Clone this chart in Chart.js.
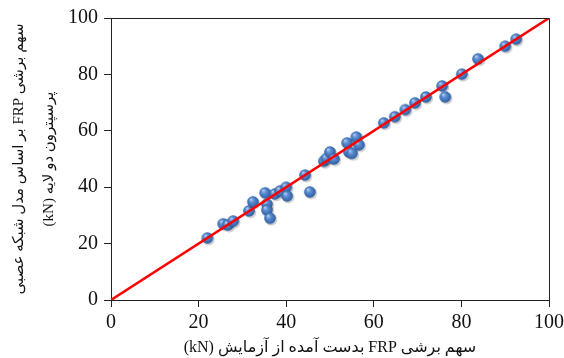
<!DOCTYPE html>
<html>
<head>
<meta charset="utf-8">
<script src="https://cdn.jsdelivr.net/npm/chart.js@4/dist/chart.umd.min.js"></script>
<style>
  html, body { margin: 0; padding: 0; background: #fff; }
  #wrap { width: 564px; height: 358px; }
</style>
</head>
<body>
<div id="wrap"><canvas id="myChart"></canvas></div>
<script>
// measured (test) vs predicted (neural net) FRP shear contribution, kN
const testValues = [22, 25.6, 26.7, 27.9, 31.5, 32.4, 35.2, 35.6, 35.6, 36.3, 37.4, 38.6, 40, 40.2, 44.3, 45.4,
  48.6, 49.2, 50, 50.9, 53.9, 54.3, 55, 56, 56.6, 62.3, 64.8, 67.2, 69.4, 71.9, 75.6, 76.3, 80.1, 83.8, 90, 92.5]
const predValues = [22, 27, 26.6, 28, 31.6, 34.8, 38, 34, 31.9, 29, 37.6, 38.7, 40, 36.9, 44.3, 38.3,
  49.2, 50.2, 52.5, 50, 55.7, 52.5, 52, 57.8, 55, 62.8, 65, 67.5, 69.9, 72, 75.9, 72, 80.1, 85.5, 90, 92.5]
const lineX = [0, 100]
const lineY = [0, 100]
const tickValues = [0, 20, 40, 60, 80, 100]

const xTitle = '\u202Bسهم برشی FRP بدست آمده از آزمایش (kN)\u202C'
const yTitle = ['\u202Bسهم برشی FRP بر اساس مدل شبکه عصبی\u202C', '\u202Bپرسپترون دو لایه (kN)\u202C']

// blue glossy ball used as the marker
function makeBall() {
  let c = document.createElement('canvas')
  c.width = 18
  c.height = 18
  let ctx = c.getContext('2d')
  ctx.fillStyle = 'rgba(0,0,0,0.18)'
  ctx.beginPath()
  ctx.arc(10.3, 10.5, 6, 0, Math.PI * 2)
  ctx.fill()
  let g = ctx.createRadialGradient(7, 6.5, 0.5, 9, 9, 6)
  g.addColorStop(0, '#a9c6ee')
  g.addColorStop(0.35, '#5b8cd0')
  g.addColorStop(0.8, '#3a6bb0')
  g.addColorStop(1, '#2b5590')
  ctx.fillStyle = g
  ctx.beginPath()
  ctx.arc(9, 9, 5.8, 0, Math.PI * 2)
  ctx.fill()
  return c
}

const scatterData = testValues.map((v, i) => ({ x: v, y: predValues[i] }))
const lineData = lineX.map((v, i) => ({ x: v, y: lineY[i] }))

const framePlugin = {
  id: 'frame',
  afterDraw(chart) {
    let a = chart.chartArea
    let ctx = chart.ctx
    ctx.save()
    ctx.strokeStyle = '#222'
    ctx.lineWidth = 1
    ctx.beginPath()
    ctx.moveTo(a.left, a.top + 0.5)
    ctx.lineTo(a.right + 0.5, a.top + 0.5)
    ctx.lineTo(a.right + 0.5, a.bottom)
    ctx.stroke()
    ctx.restore()
  }
}

const tickFont = { family: "'Liberation Serif', 'Times New Roman', serif", size: 20 }
const titleFamily = "'Liberation Serif', 'DejaVu Sans', serif"

const config = {
  type: 'scatter',
  data: {
    datasets: [{
      type: 'line',
      data: lineData,
      borderColor: '#ff0000',
      borderWidth: 2.5,
      pointRadius: 0,
      fill: false,
      order: 0
    }, {
      data: scatterData,
      pointStyle: makeBall(),
      pointRadius: 6,
      order: 1
    }]
  },
  options: {
    responsive: true,
    maintainAspectRatio: false,
    animation: false,
    layout: { padding: { top: 18, right: 15, left: 0, bottom: 0 } },
    plugins: { legend: { display: false }, tooltip: { enabled: false } },
    scales: {
      x: {
        type: 'linear',
        min: 0,
        max: 100,
        afterBuildTicks: s => { s.ticks = tickValues.map(v => ({ value: v })) },
        afterFit: s => { s.height = 58; s.paddingLeft = 0; s.paddingRight = 0 },
        grid: { drawOnChartArea: false, drawTicks: true, tickLength: 7, color: '#222' },
        border: { color: '#222', width: 1 },
        ticks: { color: '#111', font: tickFont, padding: 4, maxRotation: 0 },
        title: {
          display: true,
          text: xTitle,
          color: '#111',
          font: { family: titleFamily, size: 16 },
          padding: { top: 0, bottom: 1 }
        }
      },
      y: {
        type: 'linear',
        min: 0,
        max: 100,
        afterBuildTicks: s => { s.ticks = tickValues.map(v => ({ value: v })) },
        afterFit: s => { s.width = 111; s.paddingTop = 0; s.paddingBottom = 0 },
        grid: { drawOnChartArea: false, drawTicks: true, tickLength: 7, color: '#222' },
        border: { color: '#222', width: 1 },
        ticks: { color: '#111', font: tickFont, padding: 6 },
        title: {
          display: true,
          text: yTitle,
          color: '#111',
          font: { family: titleFamily, size: 15, lineHeight: 2 },
          padding: { top: 4, bottom: 0 }
        }
      }
    }
  },
  plugins: [framePlugin]
}

const myChart = new Chart(document.getElementById('myChart'), config)
</script>
</body>
</html>
